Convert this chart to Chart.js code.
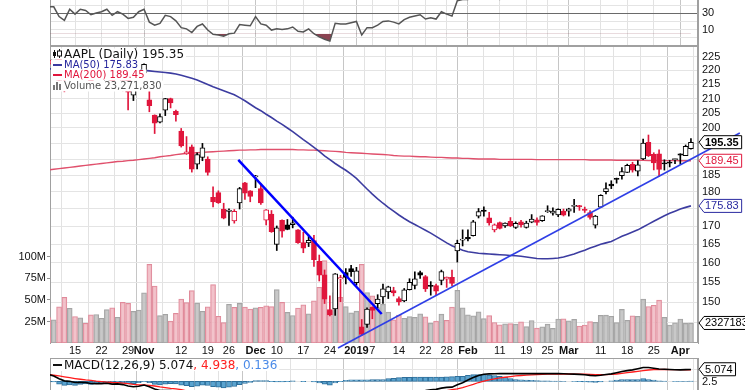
<!DOCTYPE html>
<html>
<head>
<meta charset="utf-8">
<script src="https://cdn.jsdelivr.net/npm/chart.js@4.4.1/dist/chart.umd.min.js"></script>
<style>
html,body{margin:0;padding:0;background:#fff;}
body{width:745px;height:390px;overflow:hidden;position:relative;}
canvas{position:absolute;left:0;display:block;}
#rsi{top:-52px;}
#main{top:46px;}
#macd{top:358px;}
</style>
</head>
<body>
<canvas id="rsi" width="745" height="98"></canvas>
<canvas id="main" width="745" height="311"></canvas>
<canvas id="macd" width="745" height="70"></canvas>
<script>
// ---------------- data ----------------
const dates = [
'2018-10-08','2018-10-09','2018-10-10','2018-10-11','2018-10-12',
'2018-10-15','2018-10-16','2018-10-17','2018-10-18','2018-10-19',
'2018-10-22','2018-10-23','2018-10-24','2018-10-25','2018-10-26',
'2018-10-29','2018-10-30','2018-10-31','2018-11-01','2018-11-02',
'2018-11-05','2018-11-06','2018-11-07','2018-11-08','2018-11-09',
'2018-11-12','2018-11-13','2018-11-14','2018-11-15','2018-11-16',
'2018-11-19','2018-11-20','2018-11-21','2018-11-23',
'2018-11-26','2018-11-27','2018-11-28','2018-11-29','2018-11-30',
'2018-12-03','2018-12-04','2018-12-06','2018-12-07',
'2018-12-10','2018-12-11','2018-12-12','2018-12-13','2018-12-14',
'2018-12-17','2018-12-18','2018-12-19','2018-12-20','2018-12-21',
'2018-12-24','2018-12-26','2018-12-27','2018-12-28','2018-12-31',
'2019-01-02','2019-01-03','2019-01-04',
'2019-01-07','2019-01-08','2019-01-09','2019-01-10','2019-01-11',
'2019-01-14','2019-01-15','2019-01-16','2019-01-17','2019-01-18',
'2019-01-22','2019-01-23','2019-01-24','2019-01-25',
'2019-01-28','2019-01-29','2019-01-30','2019-01-31','2019-02-01',
'2019-02-04','2019-02-05','2019-02-06','2019-02-07','2019-02-08',
'2019-02-11','2019-02-12','2019-02-13','2019-02-14','2019-02-15',
'2019-02-19','2019-02-20','2019-02-21','2019-02-22',
'2019-02-25','2019-02-26','2019-02-27','2019-02-28','2019-03-01',
'2019-03-04','2019-03-05','2019-03-06','2019-03-07','2019-03-08',
'2019-03-11','2019-03-12','2019-03-13','2019-03-14','2019-03-15',
'2019-03-18','2019-03-19','2019-03-20','2019-03-21','2019-03-22',
'2019-03-25','2019-03-26','2019-03-27','2019-03-28','2019-03-29',
'2019-04-01','2019-04-02','2019-04-03'];

const open = [
222.21,223.64,225.46,214.52,220.42,221.16,218.93,222.30,217.86,218.06,
219.79,215.83,222.60,217.71,215.90,219.19,211.15,216.88,219.05,209.55,
204.30,201.92,205.97,209.98,205.55,199.00,191.63,193.90,188.39,190.50,
190.00,178.37,179.73,174.94,174.24,171.51,176.73,182.66,180.29,184.46,
180.95,171.76,173.49,165.00,171.66,170.40,170.49,169.00,165.45,165.38,
166.00,160.40,156.86,148.15,148.30,155.84,157.50,158.53,154.89,143.98,
144.53,148.70,149.56,151.29,152.50,152.88,150.85,150.27,153.08,154.20,
157.50,156.41,154.15,154.11,155.48,155.79,156.25,163.25,166.11,166.96,
167.41,172.86,174.65,172.40,168.99,171.05,170.10,171.39,169.71,171.25,
169.71,171.19,171.80,171.58,174.16,173.71,173.21,174.32,174.28,175.69,
175.94,174.67,173.87,170.32,175.49,180.00,182.25,183.90,184.85,185.80,
188.35,186.23,190.02,195.34,191.51,191.66,188.75,188.95,189.83,191.64,
191.09,193.25];
const high = [
224.80,227.27,226.35,219.50,222.88,221.83,222.99,222.64,219.74,221.26,
223.36,223.25,224.23,221.38,220.19,219.69,215.18,220.45,222.36,213.65,
204.39,204.72,210.06,210.12,206.01,199.85,197.18,194.48,191.97,194.97,
190.70,181.47,180.27,176.60,174.95,174.77,181.29,182.80,180.33,184.94,
182.39,174.78,174.49,170.09,171.79,171.92,172.57,169.08,168.35,167.53,
167.45,162.11,158.16,151.55,157.23,156.77,158.52,159.36,158.85,145.72,
148.55,148.83,151.82,154.53,153.97,153.70,151.27,153.39,155.88,157.66,
157.88,156.73,155.14,154.48,158.13,156.33,158.13,166.15,169.00,168.98,
171.66,175.08,175.57,173.94,170.66,171.21,171.00,172.48,171.26,171.70,
171.44,173.32,172.37,173.00,175.87,175.30,175.00,174.91,175.15,177.75,
176.00,175.49,174.44,173.07,179.12,182.67,183.30,184.10,187.33,188.39,
188.99,189.49,196.33,197.69,191.98,192.88,189.76,189.56,190.08,191.68,
194.46,196.50];
const low = [
220.20,222.25,216.05,212.32,216.84,217.27,216.76,219.34,213.00,217.43,
218.94,214.70,214.54,216.75,212.67,206.09,209.27,216.62,216.81,205.43,
198.17,201.69,204.13,206.75,202.25,193.79,191.45,185.93,186.90,189.46,
184.99,175.51,176.55,172.10,170.26,170.88,174.93,177.70,177.03,181.21,
176.27,170.42,168.30,163.33,167.00,169.02,169.55,165.28,162.73,164.39,
159.09,155.30,149.63,146.59,146.72,150.07,154.55,156.48,154.23,142.00,
143.80,145.90,148.52,149.63,150.86,151.51,149.22,150.05,153.00,153.26,
155.98,152.62,151.70,151.74,154.32,153.66,154.11,160.23,164.56,165.93,
167.28,172.35,172.85,170.34,168.42,169.25,169.70,169.92,169.38,169.75,
169.49,170.99,170.30,171.38,173.95,173.17,172.73,172.92,172.89,173.97,
174.54,173.94,172.02,169.50,175.35,179.37,180.92,182.56,183.74,185.79,
185.92,184.73,189.81,190.78,186.60,184.58,186.55,187.53,188.54,188.38,
191.05,193.15];
const close = [
223.77,226.87,216.36,214.45,222.11,217.36,222.15,221.19,216.02,219.31,
220.65,222.73,215.09,219.80,216.30,212.24,213.30,218.86,222.22,207.48,
201.59,203.77,209.95,208.49,204.47,194.17,192.23,186.80,191.41,193.53,
185.86,176.98,176.78,172.29,174.62,174.24,180.94,179.55,178.58,184.82,
176.69,174.72,168.49,169.60,168.63,169.10,170.95,165.48,163.94,166.07,
160.89,156.83,150.73,146.83,157.17,156.15,156.23,157.74,157.92,142.19,
148.26,147.93,150.75,153.31,153.80,152.29,150.00,153.07,154.94,155.86,
156.82,153.30,153.92,152.70,157.76,156.30,154.68,165.25,166.44,166.52,
171.25,174.18,174.24,170.94,170.41,169.43,170.89,170.18,170.80,170.42,
170.93,172.03,171.06,172.97,174.23,174.33,174.87,173.15,174.97,175.85,
175.53,174.52,172.50,172.91,178.90,180.91,181.71,183.73,186.12,188.02,
186.53,188.16,195.09,191.05,188.74,186.79,188.47,188.72,189.95,191.24,
194.02,195.35];
const prevClose0 = 224.29; // close of the day before the first bar
// volume in millions of shares
const volume = [
29.66,26.89,41.99,53.12,40.34,30.79,29.18,22.89,32.58,33.08,
28.79,38.77,40.93,29.86,47.26,45.94,36.66,38.36,58.32,91.33,
66.16,31.88,33.42,25.36,34.37,51.14,46.88,60.80,46.48,36.93,
41.92,67.83,31.12,23.62,44.99,41.39,46.06,41.77,39.53,40.80,
41.34,43.10,42.28,62.03,47.28,35.63,31.90,40.70,44.29,33.84,
49.05,64.77,95.74,37.17,58.58,53.12,42.29,35.00,37.04,91.31,
58.61,54.78,41.03,45.10,35.78,27.02,32.44,28.71,30.57,29.82,
33.75,30.39,23.13,25.44,33.54,26.19,41.59,61.11,40.74,32.67,
31.50,36.10,28.24,31.74,23.82,20.99,22.28,22.49,21.84,24.63,
18.97,26.11,17.25,18.91,21.87,17.07,27.84,28.22,25.89,27.44,
19.74,20.81,24.80,23.99,32.01,32.47,31.03,23.58,39.04,26.22,
31.65,31.04,51.03,42.41,43.85,49.80,29.85,20.78,23.56,27.86,
22.77,23.27183];
const ma50 = [
220.5,220.6,220.6,220.6,220.7,220.7,220.7,220.8,220.8,220.8,
220.8,220.7,220.6,220.5,220.4,220.3,220.2,220.1,220.0,219.8,
219.6,219.4,219.2,219.0,218.7,218.2,217.7,217.1,216.5,215.7,
214.9,214.1,213.4,212.7,212.0,211.3,210.3,209.2,208.0,206.8,
205.8,204.6,203.5,202.3,201.2,200.0,198.8,197.5,196.2,195.0,
193.7,192.4,191.0,189.8,188.6,187.5,186.5,185.3,184.0,182.4,
180.8,179.3,177.9,176.6,175.4,174.3,173.2,172.2,171.3,170.5,
169.7,168.9,168.1,167.2,166.3,165.4,164.6,164.0,163.4,163.0,
162.8,162.6,162.5,162.4,162.3,162.2,162.1,162.0,161.9,161.8,
161.6,161.4,161.2,161.1,161.1,161.2,161.3,161.6,162.0,162.4,
162.9,163.4,164.0,164.5,165.0,165.4,165.8,166.5,167.2,167.8,
168.4,169.0,169.8,170.6,171.4,172.2,173.0,173.7,174.3,174.9,
175.4,175.83];
const ma200 = [
186.6,186.8,187.0,187.2,187.4,187.6,187.8,188.0,188.2,188.4,
188.6,188.8,189.0,189.2,189.3,189.5,189.6,189.8,190.0,190.2,
190.4,190.7,190.9,191.1,191.4,191.6,191.8,191.9,192.0,192.1,
192.2,192.3,192.4,192.5,192.6,192.7,192.8,192.8,192.9,192.9,
193.0,193.0,193.0,193.0,193.0,193.0,193.0,192.9,192.9,192.8,
192.8,192.7,192.6,192.5,192.4,192.3,192.1,192.0,191.9,191.8,
191.7,191.6,191.5,191.4,191.3,191.1,191.0,190.9,190.9,190.8,
190.7,190.7,190.6,190.5,190.5,190.4,190.3,190.3,190.2,190.2,
190.1,190.0,190.0,190.0,190.0,189.9,189.9,189.9,189.9,189.9,
189.9,189.9,189.8,189.8,189.8,189.8,189.8,189.8,189.8,189.8,
189.8,189.8,189.7,189.7,189.7,189.7,189.7,189.6,189.6,189.6,
189.6,189.6,189.6,189.5,189.5,189.5,189.5,189.5,189.5,189.45,
189.45,189.45];
const rsi14 = [
52,52,44,41,50,46,50,49,45.5,47,
48,50,45,48,46,42.5,43.5,48,50,39.5,
37,38.5,45,44,40.5,35,34,31,36,38,
33,29.5,29,28,30,30.5,37.5,37,36.5,44,
38,37,33,34,33.5,34,35.5,32,31.5,34,
30,27.5,25.5,24,38.5,38,38,39,40,29,
35,35,37,40,40.5,39.5,38,41.5,43.5,44.5,
45.5,42,43,42,48,46,44.5,57,58,58,
62,65,65,60,59,58,60,59,60,59,
60,62,60,63,65,65,66,62,65,66,
65,63,59,60,68,70,71,73,76,78,
74,76,83,70,65,62,64,64,66,67,
70,72];
const macdLine = [
3.0,2.3,1.1,0.2,0.0,-0.5,-0.4,-0.5,-0.9,-1.0,
-1.0,-0.8,-1.2,-1.1,-1.4,-2.0,-2.3,-2.1,-1.6,-2.3,
-3.3,-3.9,-3.9,-4.0,-4.3,-5.2,-6.0,-7.0,-7.3,-7.2,
-7.8,-8.9,-9.7,-10.7,-11.1,-11.3,-10.9,-10.6,-10.3,-9.4,
-9.4,-9.3,-9.7,-9.8,-9.9,-9.8,-9.4,-9.6,-9.8,-9.7,
-10.1,-10.6,-11.4,-12.2,-11.5,-10.9,-10.3,-9.6,-8.9,-9.4,
-9.0,-8.7,-8.2,-7.6,-6.9,-6.6,-6.1,-5.6,-5.1,-4.6,
-4.1,-3.9,-3.6,-3.45,-2.9,-2.6,-2.5,-1.5,-0.6,0.6,
1.6,2.5,3.05,3.2,3.25,3.3,3.32,3.32,3.32,3.32,
3.32,3.32,3.32,3.32,3.32,3.32,3.3,3.25,3.15,3.1,
3.0,2.8,2.55,2.4,2.6,2.9,3.2,3.7,4.2,4.6,
4.9,5.4,5.9,5.9,5.6,5.3,5.2,5.05,4.95,4.92,
5.0,5.074];
const macdSignal = [
2.9,2.6,2.3,1.9,1.55,1.2,0.9,0.6,0.4,0.1,
-0.1,-0.3,-0.5,-0.6,-0.8,-1.0,-1.3,-1.5,-1.5,-1.7,
-2.0,-2.4,-2.7,-3.0,-3.2,-3.6,-4.1,-4.7,-5.2,-5.6,
-6.0,-6.6,-7.2,-7.9,-8.6,-9.1,-9.5,-9.7,-9.8,-9.7,
-9.7,-9.6,-9.6,-9.6,-9.7,-9.7,-9.6,-9.6,-9.7,-9.7,
-9.8,-9.9,-10.2,-10.6,-10.8,-10.8,-10.7,-10.5,-10.2,-10.0,
-9.8,-9.6,-9.3,-8.9,-8.4,-7.9,-7.5,-7.1,-6.7,-6.3,
-5.9,-5.5,-5.1,-4.8,-4.4,-4.0,-3.6,-3.2,-2.7,-2.0,
-1.3,-0.5,0.1,0.6,1.05,1.45,1.75,2.05,2.3,2.5,
2.65,2.8,2.9,3.0,3.05,3.1,3.12,3.14,3.15,3.13,
3.1,3.05,2.97,2.9,2.88,2.9,2.98,3.15,3.4,3.7,
4.0,4.3,4.6,4.85,5.0,5.05,5.07,5.06,5.03,4.99,
4.96,4.938];
const macdHist = [
0.1,-0.3,-1.2,-1.7,-1.55,-1.7,-1.3,-1.1,-1.3,-1.1,
-0.9,-0.5,-0.7,-0.5,-0.6,-1.0,-1.0,-0.6,-0.1,-0.6,
-1.3,-1.5,-1.2,-1.0,-1.1,-1.6,-1.9,-2.3,-2.1,-1.6,
-1.8,-2.3,-2.5,-2.8,-2.5,-2.2,-1.4,-0.9,-0.5,0.3,
0.3,0.3,-0.1,-0.2,-0.2,-0.1,0.2,0.0,-0.1,0.0,
-0.3,-0.7,-1.2,-1.6,-0.7,-0.1,0.4,0.6,0.65,0.6,
0.65,0.7,0.72,0.75,1.2,1.3,1.6,1.7,1.75,1.8,
1.8,1.8,1.8,1.8,1.85,1.9,2.0,2.1,2.15,2.6,
2.85,2.85,2.85,2.7,2.5,2.1,1.8,1.2,0.75,0.6,
0.5,0.4,0.3,0.25,0.2,0.15,0.1,0.05,0.0,-0.05,
-0.1,-0.25,-0.4,-0.5,-0.3,0.0,0.2,0.5,0.7,0.75,
0.7,0.75,1.2,0.75,0.5,0.25,0.12,0.0,-0.08,-0.07,
0.04,0.136];

const tickDates = ['2018-10-15','2018-10-22','2018-10-29','2018-11-01','2018-11-12','2018-11-19','2018-11-26',
  '2018-12-03','2018-12-10','2018-12-17','2018-12-24','2019-01-02','2019-01-07','2019-01-14','2019-01-22',
  '2019-01-28','2019-02-01','2019-02-11','2019-02-19','2019-02-25','2019-03-01','2019-03-11','2019-03-18',
  '2019-03-25','2019-04-01'];
const tickText = ['15','22','29','Nov','12','19','26','Dec','10','17','24','2019','7','14','22','28','Feb',
  '11','19','25','Mar','11','18','25','Apr'];
const monthText = ['Nov','Dec','2019','Feb','Mar','Apr'];
const priceTicks = [145,150,155,160,165,170,175,180,185,190,195,200,205,210,215,220,225];
const priceLabels = [150,155,160,165,170,180,185,200,205,210,215,220,225];
const volumeTicks = [25e6,50e6,75e6,100e6];
const rsiLabels = [10,30,50,70,90];
const macdTicks = [-5,-2.5,0,2.5,5];
const macdLabels = [2.5];
// hand-drawn trend lines: [bar index, price]
const trendDown = [[35.75,189.7],[62.76,147.05]];
const trendUp = [[54.53,139.03],[130.2,198.35]];

// ---------------- helpers ----------------
const X_MIN = 0.29, X_MAX = 122.33;
const P_MIN = 140.17, P_MAX = 229.03;
const V_MAX = 345e6;
const M_MIN = -7.11, M_MAX = 7.41;
const SANS = '"Liberation Sans", Arial, sans-serif';
const VERD = '"DejaVu Sans", Verdana, sans-serif';
const RED = '#e0163c', BLACK = '#000000';

const N = close.length;
const last = N - 1;
const tickIdx = tickDates.map(d => dates.indexOf(d));
const upDay = close.map((c, i) => c >= (i ? close[i - 1] : prevClose0));
const hollow = close.map((c, i) => c >= open[i]);
const candleColor = upDay.map(u => u ? BLACK : RED);
const isMonth = v => { const k = tickIdx.indexOf(v); return k >= 0 && monthText.includes(tickText[k]); };
const noPad = s => { s.paddingTop = 0; s.paddingBottom = 0; s.paddingLeft = 0; s.paddingRight = 0; };

function xScale(show) {
  return {
    type: 'linear', min: X_MIN, max: X_MAX, offset: false,
    afterBuildTicks: s => { s.ticks = tickIdx.map(v => ({ value: v })); },
    afterFit: s => { s.height = show ? 14 : 0; noPad(s); },
    grid: { drawTicks: false, color: c => isMonth(c.tick && c.tick.value) ? '#c6c6c6' : '#e2e2e2' },
    border: { display: false },
    ticks: {
      display: show, autoSkip: false, maxRotation: 0, minRotation: 0, padding: 1, color: '#111',
      font: c => ({ family: SANS, size: 11, weight: isMonth(c.tick && c.tick.value) ? 'bold' : 'normal' }),
      callback: v => { const k = tickIdx.indexOf(v); return k >= 0 ? tickText[k] : ''; }
    }
  };
}
function leftDummy() {
  return { position: 'left', afterFit: s => { s.width = 50; noPad(s); }, ticks: { display: false },
    grid: { display: false, drawTicks: false }, border: { display: true, color: '#a0a0a0' } };
}
const frame = {
  id: 'frame',
  beforeDatasetsDraw(ch) {
    const { ctx, chartArea: a } = ch;
    ctx.save(); ctx.strokeStyle = '#a0a0a0'; ctx.lineWidth = 1;
    ctx.strokeRect(a.left + 0.5, a.top + 0.5, a.right - a.left - 1, a.bottom - a.top - 1);
    ctx.restore();
  }
};
function tag(ctx, x, y, text, color, bold) {
  ctx.save();
  ctx.font = (bold ? 'bold ' : '') + '11px ' + SANS;
  const w = ctx.measureText(text).width, h = 13;
  ctx.beginPath();
  ctx.moveTo(x, y); ctx.lineTo(x + 5, y - h / 2); ctx.lineTo(x + 9 + w, y - h / 2);
  ctx.lineTo(x + 9 + w, y + h / 2); ctx.lineTo(x + 5, y + h / 2); ctx.closePath();
  ctx.fillStyle = '#fff'; ctx.fill();
  ctx.lineWidth = 1; ctx.strokeStyle = color; ctx.stroke();
  ctx.fillStyle = color; ctx.textBaseline = 'middle'; ctx.textAlign = 'left';
  ctx.fillText(text, x + 6, y + 0.5);
  ctx.restore();
}
const pts = arr => arr.map((v, i) => ({ x: i, y: v }));
const common = { animation: false, responsive: false, events: [], devicePixelRatio: 1,
  layout: { padding: 0, autoPadding: false }, plugins: { legend: { display: false }, tooltip: { enabled: false } } };

// ---------------- RSI panel ----------------
new Chart(document.getElementById('rsi'), {
  type: 'line',
  data: { datasets: [{
    data: pts(rsi14), borderColor: '#555', borderWidth: 1.5, pointRadius: 0, tension: 0,
    fill: { target: { value: 30 }, above: 'rgba(0,0,0,0)', below: '#8a4352' }
  }] },
  options: Object.assign({}, common, {
    scales: {
      x: xScale(false),
      yl: leftDummy(),
      y: { position: 'right', min: -10, max: 110, afterFit: s => { s.width = 47; noPad(s); },
        ticks: { stepSize: 10, autoSkip: false, padding: 4, color: '#111', font: { family: SANS, size: 11 },
          callback: v => rsiLabels.includes(v) ? String(v) : '' },
        grid: { drawTicks: false, color: c => (c.tick && (c.tick.value === 30 || c.tick.value === 70)) ? '#6a6a6a' : '#e4e4e4' },
        border: { color: '#a0a0a0' } }
    }
  }),
  plugins: [frame]
});

// ---------------- main price panel ----------------
const mainLegend = {
  id: 'mainLegend',
  afterDraw(ch) {
    const ctx = ch.ctx, a = ch.chartArea, ys = ch.scales.y, yv = ch.scales.yv;
    const L = a.left, T = a.top;
    const volText = Math.round(volume[last] * 1e6);
    const items = [
      { dy: 8, size: 12, text: 'AAPL (Daily) ' + close[last].toFixed(2), color: '#111', icon: 'candle' },
      { dy: 19, size: 10, text: 'MA(50) ' + ma50[last].toFixed(2), color: '#24249c', icon: 'line', ic: '#3a3aa0' },
      { dy: 29, size: 10, text: 'MA(200) ' + ma200[last].toFixed(2), color: '#e0163c', icon: 'line', ic: '#e0163c' },
      { dy: 40, size: 10, text: 'Volume ' + volText.toLocaleString('en-US'), color: '#555', icon: 'vol' }
    ];
    ctx.save();
    items.forEach(it => {
      const y = T + it.dy;
      ctx.font = it.size + 'px ' + VERD;
      const w = ctx.measureText(it.text).width;
      ctx.fillStyle = '#fff';
      ctx.fillRect(L + 1, y - 5.5, 14 + w + 1, 11);
      if (it.icon === 'line') {
        ctx.fillStyle = it.ic; ctx.fillRect(L + 3, y - 1, 9, 2);
      } else if (it.icon === 'candle') {
        ctx.fillStyle = '#111';
        ctx.fillRect(L + 4, y - 4, 1, 8); ctx.fillRect(L + 3, y - 2, 3, 4);
        ctx.fillRect(L + 9, y - 5, 1, 9); ctx.strokeStyle = '#111'; ctx.lineWidth = 1;
        ctx.fillStyle = '#fff'; ctx.fillRect(L + 7.5, y - 3, 4, 5); ctx.strokeRect(L + 7.5, y - 3, 4, 5);
      } else {
        ctx.fillStyle = '#777';
        ctx.fillRect(L + 3, y - 1, 2, 5); ctx.fillRect(L + 6, y - 4, 2, 8); ctx.fillRect(L + 9, y - 2, 2, 6);
      }
      ctx.fillStyle = it.color; ctx.textBaseline = 'middle'; ctx.textAlign = 'left';
      ctx.fillText(it.text, L + 14, y + 0.5);
    });
    ctx.restore();
    const R = a.right + 1;
    tag(ctx, R, ys.getPixelForValue(ma50[last]), ma50[last].toFixed(2), '#2a2aa0', false);
    tag(ctx, R, ys.getPixelForValue(ma200[last]), ma200[last].toFixed(2), '#e0163c', false);
    tag(ctx, R, ys.getPixelForValue(close[last]), close[last].toFixed(2), '#000', true);
    tag(ctx, R, yv.getPixelForValue(volume[last] * 1e6), String(volText).slice(0, 7), '#000', false);
  }
};

new Chart(document.getElementById('main'), {
  type: 'bar',
  data: { datasets: [
    { type: 'bar', yAxisID: 'yv', data: volume.map((v, i) => ({ x: i, y: v * 1e6 })),
      backgroundColor: upDay.map(u => u ? 'rgba(190,190,190,0.85)' : 'rgba(240,184,194,0.85)'),
      borderColor: upDay.map(u => u ? '#a4a4a4' : '#e08a9a'),
      borderWidth: 1, borderSkipped: false, barThickness: 5, grouped: false, order: 10 },
    { type: 'line', yAxisID: 'y', data: pts(ma200), borderColor: '#e0506c', borderWidth: 1.4,
      pointRadius: 0, tension: 0, order: 6 },
    { type: 'line', yAxisID: 'y', data: pts(ma50), borderColor: '#3c3ca0', borderWidth: 1.6,
      pointRadius: 0, tension: 0, order: 5 },
    { type: 'bar', yAxisID: 'y', data: low.map((l, i) => ({ x: i, y: [l, high[i]] })),
      backgroundColor: candleColor, borderWidth: 0, barThickness: 1, grouped: false, order: 3 },
    { type: 'bar', yAxisID: 'y', data: open.map((o, i) => ({ x: i, y: [Math.min(o, close[i]), Math.max(o, close[i])] })),
      backgroundColor: candleColor.map((c, i) => hollow[i] ? '#ffffff' : c), borderColor: candleColor,
      borderWidth: 1, borderSkipped: false, barThickness: 5, minBarLength: 1, grouped: false, order: 2 },
    { type: 'line', yAxisID: 'y', data: trendDown.map(p => ({ x: p[0], y: p[1] })), borderColor: '#0000ff',
      borderWidth: 2.5, pointRadius: 0, clip: false, order: 1 },
    { type: 'line', yAxisID: 'y', data: trendUp.map(p => ({ x: p[0], y: p[1] })), borderColor: '#2f3fe6',
      borderWidth: 1.6, pointRadius: 0, clip: false, order: 1 }
  ] },
  options: Object.assign({}, common, {
    scales: {
      x: xScale(true),
      yv: { type: 'linear', position: 'left', min: 0, max: V_MAX, afterFit: s => { s.width = 50; noPad(s); },
        afterBuildTicks: s => { s.ticks = volumeTicks.map(v => ({ value: v })); },
        ticks: { padding: 1, color: '#111', font: { family: SANS, size: 11 }, callback: v => (v / 1e6) + 'M' },
        grid: { drawOnChartArea: false, drawTicks: true, tickLength: 3, color: '#909090' },
        border: { color: '#a0a0a0' } },
      y: { type: 'logarithmic', position: 'right', min: P_MIN, max: P_MAX, bounds: 'data',
        afterFit: s => { s.width = 47; noPad(s); },
        afterBuildTicks: s => { s.ticks = priceTicks.map(v => ({ value: v })); },
        ticks: { autoSkip: false, padding: 4, color: '#111', font: { family: SANS, size: 11 },
          callback: v => priceLabels.includes(v) ? String(v) : '' },
        grid: { drawTicks: false, color: '#e4e4e4' },
        border: { color: '#a0a0a0' } }
    }
  }),
  plugins: [frame, mainLegend]
});

// ---------------- MACD panel ----------------
const macdLegend = {
  id: 'macdLegend',
  afterDraw(ch) {
    const ctx = ch.ctx, a = ch.chartArea, L = a.left, y = a.top + 7;
    const parts = [
      { t: 'MACD(12,26,9) ' + macdLine[last].toFixed(3), c: '#111' },
      { t: ', ' + macdSignal[last].toFixed(3), c: '#ff2020' },
      { t: ', ' + macdHist[last].toFixed(3), c: '#4a8ae8' }
    ];
    ctx.save();
    ctx.font = '12px ' + VERD;
    const w = parts.reduce((s, p) => s + ctx.measureText(p.t).width, 0);
    ctx.fillStyle = '#fff'; ctx.fillRect(L + 1, y - 6, 14 + w + 1, 12);
    ctx.fillStyle = '#111'; ctx.fillRect(L + 3, y - 1, 9, 2);
    let x = L + 14;
    ctx.textBaseline = 'middle'; ctx.textAlign = 'left';
    parts.forEach(p => { ctx.fillStyle = p.c; ctx.fillText(p.t, x, y + 0.5); x += ctx.measureText(p.t).width; });
    ctx.restore();
    tag(ctx, a.right + 1, ch.scales.y.getPixelForValue(macdLine[last]), macdLine[last].toFixed(3), '#000', false);
  }
};
new Chart(document.getElementById('macd'), {
  type: 'bar',
  data: { datasets: [
    { type: 'bar', data: pts(macdHist), backgroundColor: '#5aa3cf', borderColor: '#2e6f9b', borderWidth: 1,
      borderSkipped: false, barThickness: 5, grouped: false, order: 3 },
    { type: 'line', data: pts(macdSignal), borderColor: '#ff1c1c', borderWidth: 1.3, pointRadius: 0, tension: 0, order: 2 },
    { type: 'line', data: pts(macdLine), borderColor: '#000', borderWidth: 1.6, pointRadius: 0, tension: 0, order: 1 }
  ] },
  options: Object.assign({}, common, {
    scales: {
      x: xScale(false),
      yl: leftDummy(),
      y: { position: 'right', min: M_MIN, max: M_MAX, afterFit: s => { s.width = 47; noPad(s); },
        afterBuildTicks: s => { s.ticks = macdTicks.map(v => ({ value: v })); },
        ticks: { autoSkip: false, padding: 4, color: '#111', font: { family: SANS, size: 11 },
          callback: v => macdLabels.includes(v) ? v.toFixed(1) : '' },
        grid: { drawTicks: false, color: '#e4e4e4' },
        border: { color: '#a0a0a0' } }
    }
  }),
  plugins: [frame, macdLegend]
});
</script>
</body>
</html>
